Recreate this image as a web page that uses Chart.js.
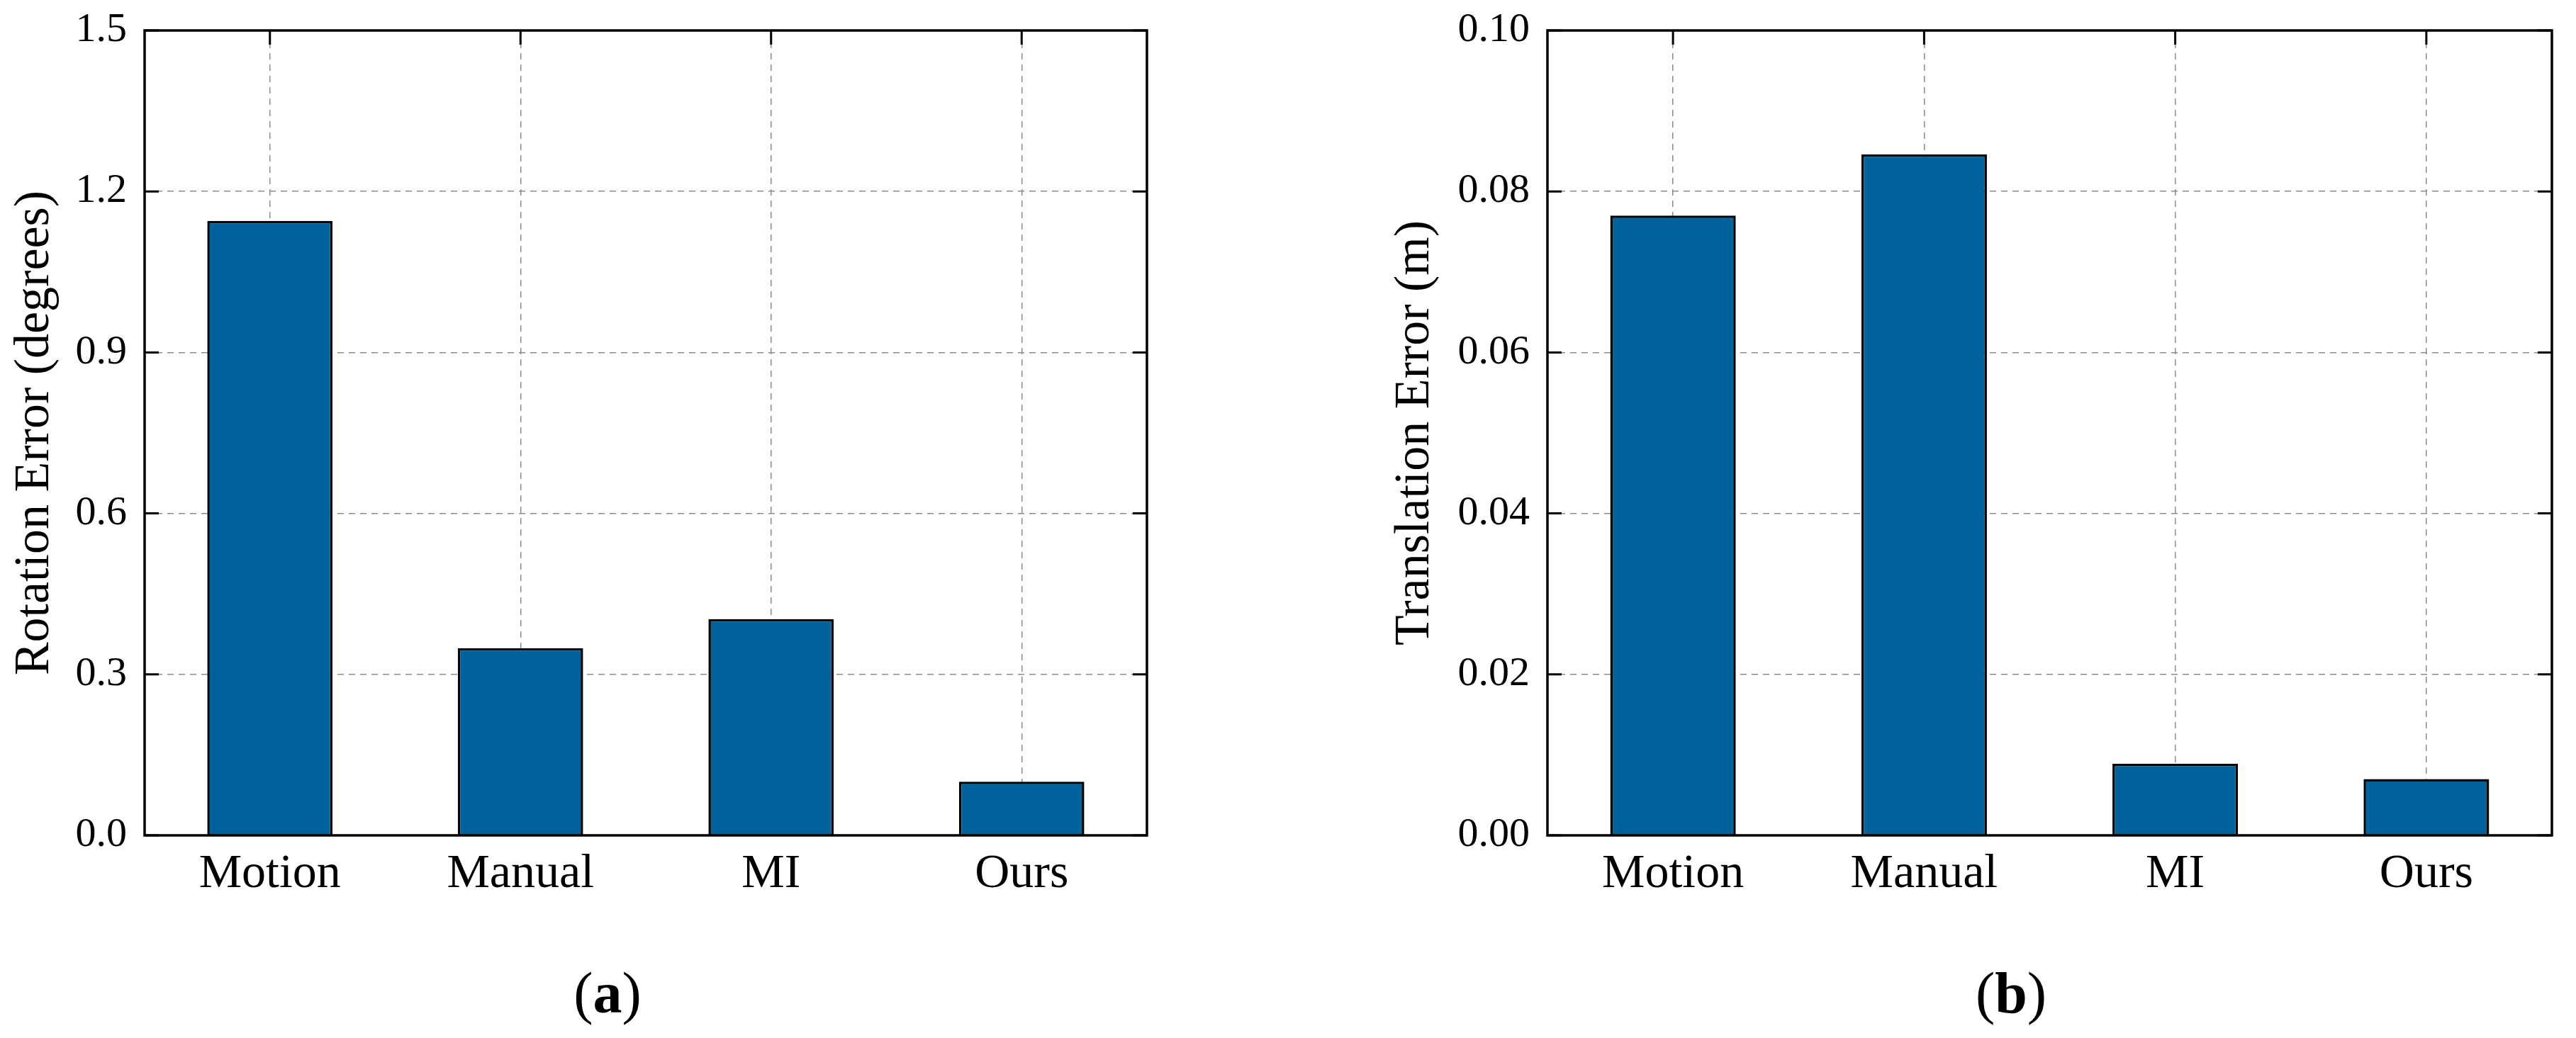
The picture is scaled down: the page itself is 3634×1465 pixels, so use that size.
<!DOCTYPE html>
<html>
<head>
<meta charset="utf-8">
<script src="https://cdn.jsdelivr.net/npm/chart.js@4.4.1/dist/chart.umd.min.js"></script>
<style>
  html, body { margin: 0; padding: 0; background: #fff; }
  #page { position: relative; width: 3634px; height: 1465px; overflow: hidden; }
  canvas { position: absolute; top: 0; }
  .cap { position: absolute; font-family: 'Liberation Serif'; font-size: 82px; line-height: 82px; transform: translateX(-50%); white-space: nowrap; }
</style>
</head>
<body>
<div id="page">
  <canvas id="rotation" width="1817" height="1465" style="left:0"></canvas>
  <canvas id="translation" width="1817" height="1465" style="left:1817px"></canvas>
  <div class="cap" style="left:857px; top:1361px;">(<b>a</b>)</div>
  <div class="cap" style="left:2837px; top:1361px;">(<b>b</b>)</div>
</div>
<script>
// data
const categories = ['Motion', 'Manual', 'MI', 'Ours'];
const rotationErr = [1.145, 0.349, 0.403, 0.100];
const translationErr = [0.0770, 0.0846, 0.0089, 0.0070];
const rotationTicks = [0, 0.3, 0.6, 0.9, 1.2, 1.5];
const translationTicks = [0, 0.02, 0.04, 0.06, 0.08, 0.10];

const barColor = '#00629b';
const serif = 'Liberation Serif';

// box around the plot plus inward tick marks
const framePlugin = {
    id: 'frame',
    afterDatasetsDraw(chart) {
        const { ctx, chartArea: a, scales } = chart;
        const tl = 20;
        ctx.save();
        ctx.strokeStyle = '#000';
        ctx.lineWidth = 3;
        ctx.beginPath();
        scales.y.ticks.forEach(t => {
            const y = scales.y.getPixelForValue(t.value);
            ctx.moveTo(a.left, y); ctx.lineTo(a.left + tl, y);
            ctx.moveTo(a.right, y); ctx.lineTo(a.right - tl, y);
        });
        scales.x.ticks.forEach((t, i) => {
            const x = scales.x.getPixelForTick(i);
            ctx.moveTo(x, a.top); ctx.lineTo(x, a.top + tl);
        });
        ctx.stroke();
        ctx.lineWidth = 3.5;
        ctx.strokeRect(a.left, a.top, a.right - a.left, a.bottom - a.top);
        ctx.restore();
    }
};

function makeChart(id, values, tickValues, decimals, title, pad, yWidth) {
    const ctx = document.getElementById(id);
    return new Chart(ctx, {
        type: 'bar',
        data: {
            labels: categories,
            datasets: [{
                data: values,
                backgroundColor: barColor,
                borderColor: '#000',
                borderWidth: 3.5,
                categoryPercentage: 1.0,
                barPercentage: 0.5
            }]
        },
        options: {
            responsive: false,
            animation: false,
            devicePixelRatio: 1,
            layout: { padding: pad },
            plugins: { legend: { display: false }, tooltip: { enabled: false } },
            scales: {
                x: {
                    grid: { offset: false, drawTicks: false, color: '#8c8c8c', lineWidth: 1.5 },
                    border: { display: false, dash: [9, 7] },
                    ticks: { color: '#000', padding: 14, font: { family: serif, size: 68 } },
                    afterFit: (scale) => {
                        scale.height = 120;
                        scale.paddingLeft = 0; scale.paddingRight = 0;
                    }
                },
                y: {
                    min: tickValues[0],
                    max: tickValues[tickValues.length - 1],
                    afterBuildTicks: (scale) => { scale.ticks = tickValues.map(v => ({ value: v })); },
                    grid: { drawTicks: false, color: '#8c8c8c', lineWidth: 1.5 },
                    border: { display: false, dash: [9, 7] },
                    ticks: {
                        color: '#000', padding: 25,
                        font: { family: serif, size: 58 },
                        callback: (v) => Number(v).toFixed(decimals)
                    },
                    title: {
                        display: true, text: title, color: '#000',
                        font: { family: serif, size: 70 }
                    },
                    afterFit: (scale) => {
                        scale.width = yWidth;
                        scale.paddingTop = 0; scale.paddingBottom = 0;
                    }
                }
            }
        },
        plugins: [framePlugin]
    });
}

makeChart('rotation', rotationErr, rotationTicks, 1, 'Rotation Error (degrees)',
    { left: 4, top: 43, right: 199, bottom: 166 }, 200);
makeChart('translation', translationErr, translationTicks, 2, 'Translation Error (m)',
    { left: 134, top: 43, right: 34, bottom: 166 }, 232);
</script>
</body>
</html>
